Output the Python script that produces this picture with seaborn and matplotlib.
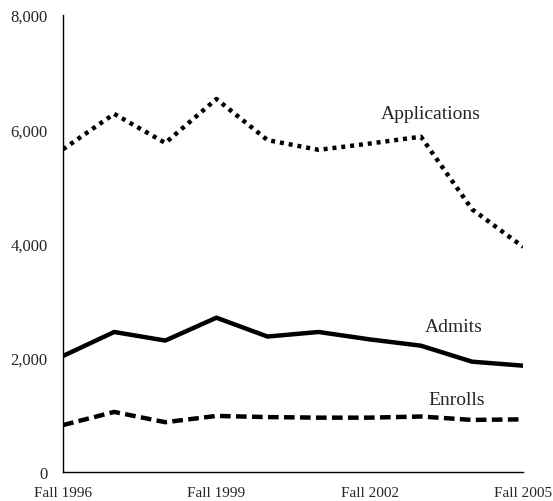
import pandas as pd
import matplotlib
matplotlib.use("Agg")
import matplotlib.pyplot as plt
import seaborn as sns

# data
terms = list(range(1996, 2006))
applications = [5650, 6270, 5760, 6530, 5810, 5640, 5750, 5870, 4600, 3940]
admits = [2030, 2450, 2300, 2700, 2370, 2450, 2320, 2210, 1930, 1860]
enrolls = [820, 1050, 870, 980, 960, 950, 950, 970, 910, 920]
tick_years = [1996, 1999, 2002, 2005]
tick_labels = ['Fall 1996', 'Fall 1999', 'Fall 2002', 'Fall 2005']
y_ticks = [0, 2000, 4000, 6000, 8000]

sns.set_theme(style="white")
plt.rcParams['font.family'] = ['Liberation Serif', 'DejaVu Serif']

df = pd.DataFrame({'term': terms, 'Applications': applications,
                   'Admits': admits, 'Enrolls': enrolls})

fig = plt.figure(figsize=(5.53, 5.02), dpi=100)
ax = fig.add_axes([0.114, 0.058, 0.832, 0.91])

sns.lineplot(data=df, x='term', y='Applications', ax=ax, color='black', lw=3.2)
sns.lineplot(data=df, x='term', y='Admits', ax=ax, color='black', lw=3.2)
sns.lineplot(data=df, x='term', y='Enrolls', ax=ax, color='black', lw=3.2)
ax.lines[0].set_dashes((0.9, 1.1))
ax.lines[0].set_dash_capstyle('butt')
ax.lines[2].set_dashes((2.4, 1.2))
ax.lines[2].set_dash_capstyle('butt')

ax.text(2003.2, 6270, 'Applications', ha='center', va='center', fontsize=14)
ax.text(2003.65, 2550, 'Admits', ha='center', va='center', fontsize=14)
ax.text(2003.7, 1260, 'Enrolls', ha='center', va='center', fontsize=14)

ax.set_xlim(1996, 2005)
ax.set_ylim(0, 8000)
ax.set_xticks(tick_years)
ax.set_xticklabels(tick_labels, fontsize=11)
ax.set_yticks(y_ticks)
ax.set_yticklabels([f'{v:,}' for v in y_ticks], fontsize=12)
ax.set_xlabel('')
ax.set_ylabel('')
ax.tick_params(axis='y', length=0, pad=11)
ax.tick_params(axis='x', length=0, pad=10)

sns.despine(ax=ax)
for s in ['left', 'bottom']:
    ax.spines[s].set_color('black')
    ax.spines[s].set_linewidth(1.0)

fig.savefig('out.png', dpi=100)
